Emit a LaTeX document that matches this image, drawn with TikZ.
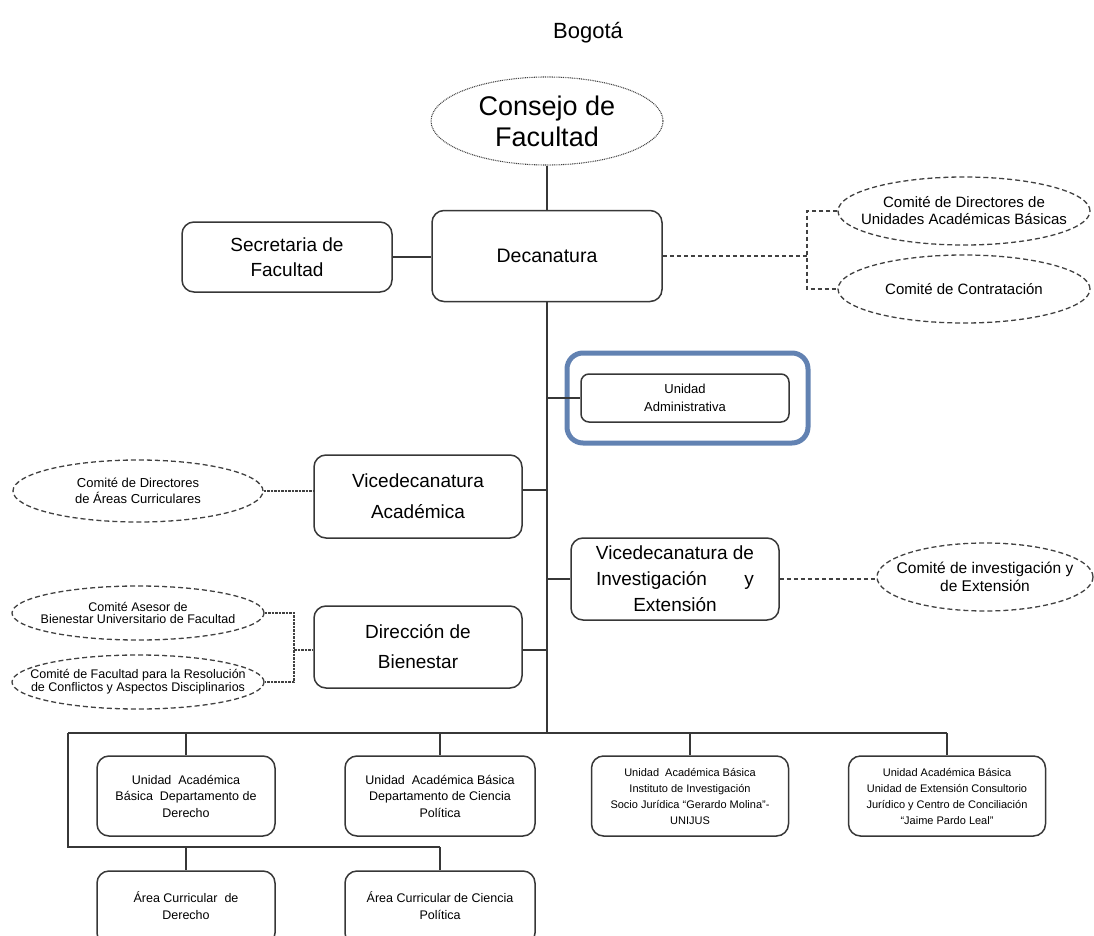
\documentclass[tikz,border=0pt]{standalone}
\usepackage{fontspec}
\setmainfont{Liberation Sans}
\usetikzlibrary{shapes.geometric}

\definecolor{linegray}{RGB}{55,55,55}
\definecolor{dashgray}{RGB}{65,65,65}
\definecolor{hlblue}{RGB}{98,130,178}

\newcommand{\fsz}[2]{\fontsize{#1}{#2}\selectfont}
% zero-width line, so long labels may spill over an ellipse border
\newcommand{\zl}[1]{\makebox[0pt]{#1}}

\begin{document}
\begin{tikzpicture}[x=1pt,y=-1pt,
  box/.style={draw=linegray, line width=1.5pt, rounded corners=12pt, align=center, inner sep=0pt},
  comite/.style={ellipse, draw=dashgray, line width=1.3pt, dash pattern=on 5pt off 3pt, align=center, inner sep=0pt},
  link/.style={draw=linegray, line width=1.4pt},
  dlink/.style={draw=dashgray, line width=1.4pt, dash pattern=on 4pt off 3pt},
  fine/.style={draw=dashgray, line width=1.2pt, dash pattern=on 2.5pt off 1pt},
]
\useasboundingbox (0,0) rectangle (1094,936);

% title
\node[font=\fsz{22}{26}] (city) at (588,33) {Bogotá};

% top of the hierarchy
\node[ellipse, draw=dashgray, line width=1.1pt, dash pattern=on 0.9pt off 0.9pt,
      minimum width=232pt, minimum height=88pt, inner sep=0pt, align=center,
      font=\fsz{27}{31}] (consejo) at (547,121) {\zl{Consejo de}\\\zl{Facultad}};
\node[box, minimum width=230pt, minimum height=91pt, font=\fsz{19.5}{24}] (decanatura) at (547,256) {Decanatura};
\node[box, minimum width=210pt, minimum height=70pt, font=\fsz{19}{25}] (secretaria) at (287,257) {Secretaria de\\Facultad};

\draw[link] (consejo) -- (decanatura);
\draw[link] (secretaria.east) -- (secretaria.east -| decanatura.west);

% committees attached to the dean's office
\node[comite, minimum width=252pt, minimum height=68pt, font=\fsz{15}{17}] (dirUAB) at (964,211)
  {\zl{Comité de Directores de}\\\zl{Unidades Académicas Básicas}};
\node[comite, minimum width=252pt, minimum height=68pt, font=\fsz{15}{17}] (contrat) at (964,289)
  {\zl{Comité de Contratación}};
\coordinate (brR) at (807,256);
\draw[dlink] (decanatura.east) -- (decanatura.east -| brR);
\draw[dlink] (dirUAB.west) -| (brR) |- (contrat.west);

% main trunk and bus
\coordinate (trunkEnd) at (547,733);
\coordinate (busL) at (68,733);
\coordinate (busL2) at (68,847);
\draw[link] (decanatura.south) -- (trunkEnd);

% administrative unit, highlighted
\node[draw=hlblue, line width=5pt, rounded corners=16pt, minimum width=241pt, minimum height=90pt, inner sep=0pt] (hl) at (687.5,398) {};
\node[box, rounded corners=8pt, minimum width=208pt, minimum height=48pt, font=\fsz{13}{18}] (uadmin) at (685,398) {Unidad\\Administrativa};
\draw[link] (uadmin.west -| trunkEnd) -- (uadmin.west);

% academic vice-deanship
\node[box, minimum width=208pt, minimum height=83pt, font=\fsz{19}{31}] (vaca) at (418,496.5) {Vicedecanatura\\Académica};
\draw[link] ([yshift=6.5pt]vaca.east) -- ([yshift=6.5pt]vaca.east -| trunkEnd);
\node[comite, minimum width=250pt, minimum height=62pt, font=\fsz{13}{16}] (areas) at (138,491)
  {\zl{Comité de Directores}\\\zl{de Áreas Curriculares}};
\draw[fine] (areas.east) -- (areas.east -| vaca.west);

% research and extension vice-deanship
\node[box, minimum width=208pt, minimum height=82pt, font=\fsz{19}{26}] (vinv) at (675,579)
  {Vicedecanatura de\\\makebox[158pt]{Investigación\hfill y}\\Extensión};
\draw[link] (vinv.west -| trunkEnd) -- (vinv.west);
\node[comite, minimum width=216pt, minimum height=68pt, font=\fsz{15.5}{18}] (cinv) at (985,577)
  {\zl{Comité de investigación y}\\\zl{de Extensión}};
\draw[dlink] (vinv.east) -- (vinv.east -| cinv.west);

% welfare directorate
\node[box, minimum width=208pt, minimum height=82pt, font=\fsz{19}{30}] (bien) at (418,647) {Dirección de\\Bienestar};
\draw[link] ([yshift=-3pt]bien.east) -- ([yshift=-3pt]bien.east -| trunkEnd);
\node[comite, minimum width=252pt, minimum height=54pt, font=\fsz{12.5}{11.5}] (asesor) at (138,613)
  {\zl{Comité Asesor de}\\\zl{Bienestar Universitario de Facultad}};
\node[comite, minimum width=252pt, minimum height=54pt, font=\fsz{12.5}{11.5}] (resol) at (138,682)
  {\zl{Comité de Facultad para la Resolución}\\\zl{de Conflictos y Aspectos Disciplinarios}};
\coordinate (brL) at (294,650);
\draw[fine] (asesor.east) -| (brL) |- (resol.east);
\draw[fine] (brL) -- (brL -| bien.west);

% basic academic units
\node[box, minimum width=178pt, minimum height=80pt, font=\fsz{12.5}{16.5}] (uder) at (186,796)
  {Unidad\ \ Académica\\Básica\ \ Departamento de\\Derecho};
\node[box, minimum width=190pt, minimum height=80pt, font=\fsz{12.5}{16.5}] (ucp) at (440,796)
  {Unidad\ \ Académica Básica\\Departamento de Ciencia\\Política};
\node[box, minimum width=197pt, minimum height=80pt, font=\fsz{11}{16}] (unijus) at (690,796)
  {Unidad\ \ Académica Básica\\Instituto de Investigación\\Socio Jurídica “Gerardo Molina”-\\UNIJUS};
\node[box, minimum width=197pt, minimum height=80pt, font=\fsz{11}{16}] (ucons) at (947,796)
  {Unidad Académica Básica\\Unidad de Extensión Consultorio\\Jurídico y Centro de Conciliación\\“Jaime Pardo Leal”};

\draw[link] (busL) -- (busL -| ucons.north);
\foreach \n in {uder,ucp,unijus,ucons}
  \draw[link] (\n.north |- busL) -- (\n.north);

% curricular areas
\node[box, minimum width=178pt, minimum height=74pt, font=\fsz{12.5}{17}] (acd) at (186,908)
  {\raisebox{7pt}{\begin{tabular}{@{}c@{}}Área Curricular\ \ de\\Derecho\end{tabular}}};
\node[box, minimum width=190pt, minimum height=74pt, font=\fsz{12.5}{17}] (acp) at (440,908)
  {\raisebox{7pt}{\begin{tabular}{@{}c@{}}Área Curricular de Ciencia\\Política\end{tabular}}};

\draw[link] (busL) -- (busL2) -- (busL2 -| acp.north);
\foreach \n in {acd,acp}
  \draw[link] (\n.north |- busL2) -- (\n.north);

\end{tikzpicture}
\end{document}
